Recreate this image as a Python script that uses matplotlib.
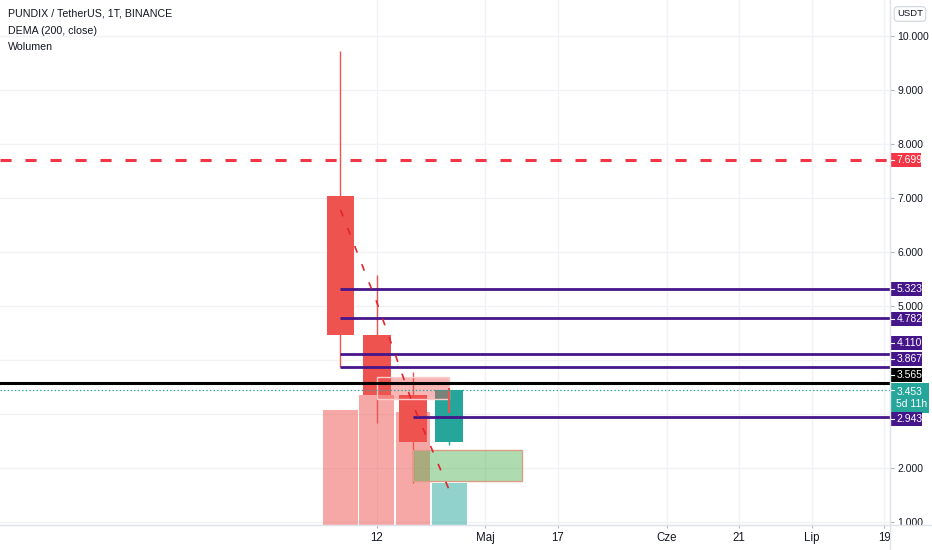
import matplotlib
matplotlib.use("Agg")
import matplotlib.pyplot as plt
from matplotlib import font_manager
from matplotlib.patches import Rectangle
from matplotlib.lines import Line2D
from matplotlib.transforms import blended_transform_factory

names = {f.name for f in font_manager.fontManager.ttflist}
FONT = 'Liberation Sans Narrow' if 'Liberation Sans Narrow' in names else 'Liberation Sans'
plt.rcParams['font.family'] = [FONT, 'DejaVu Sans']
plt.rcParams['lines.scale_dashes'] = False

# ---------------- data ----------------
weeks = [0, 1, 2, 3]                 # weekly candles from 2021-04-05
opens = [7.03, 4.46, 3.36, 2.48]
highs = [9.72, 5.57, 3.78, 3.47]
lows = [3.867, 2.83, 1.72, 2.43]
closes = [4.46, 3.36, 2.48, 3.453]
volumes = [46.0, 52.0, 45.2, 16.8]   # millions
dema = [6.78, 5.07, 3.17, 1.59]

x_tick_pos = [1, 4, 6, 9, 11, 13, 15]
x_tick_labels = ['12', 'Maj', '17', 'Cze', '21', 'Lip', '19']
price_ticks = [1, 2, 5, 6, 7, 8, 9, 10]
grid_prices = [1, 2, 3, 4, 5, 6, 7, 8, 9, 10]

resistance = 7.699
purple_levels = [5.323, 4.782, 4.110, 3.867, 2.943]
purple_starts = [0, 0, 0, 0, 2]
black_level = 3.565
last_price = 3.453
countdown = '5d 11h'
pink_box = (1, 3, 3.278, 3.685)      # x0, x1, y0, y1
green_box = (2, 5, 1.759, 2.333)
red_mark = (3, 3.02, 3.48)

# ---------------- style ----------------
RED = '#ef5350'
TEAL = '#26a69a'
PURPLE = '#45158a'
TXT = '#131722'
GRID = '#f0f2f6'
AXC = '#e0e3eb'

W, H = 932, 550
AX_W, AX_H = 890, 525
XMIN, XMAX = -9.393, 15.159
YMIN, YMAX = 0.9444, 10.6667
PXU = AX_H / (YMAX - YMIN)

fig = plt.figure(figsize=(W / 100, H / 100), dpi=100)
rect = [0, (H - AX_H) / H, AX_W / W, AX_H / H]
axv = fig.add_axes(rect)
ax = axv.twinx()
ax.set_zorder(axv.get_zorder() + 1)
ax.patch.set_visible(False)

axv.set_xlim(XMIN, XMAX)
ax.set_ylim(YMIN, YMAX)
axv.set_ylim(0, max(volumes) * AX_H / 130)

# grid on the volume axes (behind)
gtrans = blended_transform_factory(axv.transAxes, ax.transData)
for p in grid_prices:
    axv.plot([0, 1], [p, p], transform=gtrans, color=GRID, lw=1, zorder=0)
for xt in x_tick_pos:
    axv.axvline(xt, color=GRID, lw=1, zorder=0)

# volume
for w, o, c, v in zip(weeks, opens, closes, volumes):
    col = RED if c < o else TEAL
    axv.bar(w, v, width=0.955, color=col, alpha=0.5, linewidth=0, zorder=1)

# candles
for w, o, h, l, c in zip(weeks, opens, highs, lows, closes):
    col = RED if c < o else TEAL
    ax.vlines(w, l, h, color=col, lw=1, zorder=2)
    ax.bar(w, abs(c - o), bottom=min(o, c), width=0.76, color=col,
           linewidth=0, zorder=3)

# drawings
x0, x1, y0, y1 = pink_box
ax.add_patch(Rectangle((x0, y0), x1 - x0, y1 - y0, fc=(0.937, 0.325, 0.314, 0.42),
                       ec=(0.98, 0.8, 0.8, 1), lw=1, zorder=4))
x0, x1, y0, y1 = green_box
ax.add_patch(Rectangle((x0, y0), x1 - x0, y1 - y0, fc=(0.30, 0.69, 0.31, 0.45),
                       ec=(0.85, 0.62, 0.52, 1), lw=1, zorder=4))
ax.vlines(red_mark[0], red_mark[1], red_mark[2], color=RED, lw=1.5, zorder=5)

# levels
ax.plot([XMIN, XMAX], [resistance, resistance], color='#f23645', lw=2.2,
        dashes=(8, 10), zorder=6)
for lvl, st in zip(purple_levels, purple_starts):
    ax.plot([st, XMAX], [lvl, lvl], color=PURPLE, lw=2, zorder=6,
            solid_capstyle='butt')
ax.plot([XMIN, XMAX], [black_level, black_level], color='black', lw=2.2, zorder=6)
ax.plot([XMIN, XMAX], [last_price, last_price], color=TEAL, lw=0.9,
        dashes=(1, 1.6), zorder=6)

# DEMA
ax.plot(weeks, dema, color='#e0262c', lw=1.2, dashes=(5, 9), zorder=7)
axv.set_xlim(XMIN, XMAX)

# axes styling
for s in ('top', 'left'):
    ax.spines[s].set_visible(False)
    axv.spines[s].set_visible(False)
axv.spines['right'].set_visible(False)
axv.spines['bottom'].set_visible(False)
ax.spines['right'].set_color(AXC)
ax.spines['bottom'].set_color(AXC)
axv.set_yticks([])

ax.yaxis.tick_right()
ax.set_yticks(price_ticks)
ax.set_yticklabels([f'{p:.3f}' for p in price_ticks])
ax.tick_params(axis='y', length=3, width=0.8, color='#b2b5be', pad=2.5,
               labelsize=7.5, labelcolor=TXT)
axv.set_xticks(x_tick_pos)
axv.set_xticklabels(x_tick_labels)
axv.tick_params(axis='x', length=2, width=0.8, color='#b2b5be', pad=3,
                labelsize=8.3, labelcolor=TXT)

# price labels on the scale
ltrans = blended_transform_factory(ax.transAxes, ax.transData)


def price_label(y, text, fc, w_px=32, h_px=14):
    h = h_px / PXU
    ax.add_patch(Rectangle((1.0, y - h / 2), w_px / AX_W, h, transform=ltrans,
                           fc=fc, ec='none', clip_on=False, zorder=20))
    ax.plot([1.0, 1.0 + 3.5 / AX_W], [y + (h_px / 2 - 7) / PXU] * 2, transform=ltrans,
            color='white', lw=0.8, clip_on=False, zorder=21)
    ax.text(1.0 + 6.5 / AX_W, y, text, transform=ltrans, ha='left', va='center',
            fontsize=7.5, color='white', clip_on=False, zorder=22,
            linespacing=1.25)


price_label(resistance, f'{resistance:.3f}', '#f23645', 31)
price_label(purple_levels[0], f'{purple_levels[0]:.3f}', PURPLE)
price_label(purple_levels[1] - 0.02, f'{purple_levels[1]:.3f}', PURPLE)
price_label(4.315, f'{purple_levels[2]:.3f}', PURPLE)
price_label(4.019, f'{purple_levels[3]:.3f}', PURPLE)
price_label(3.722, f'{black_level:.3f}', 'black')
price_label(3.296, f'{last_price:.3f}\n{countdown}', TEAL, 39, 30)
price_label(purple_levels[4] - 0.035, f'{purple_levels[4]:.3f}', PURPLE)

# header text
fig.text(8 / W, 1 - 14 / H, 'PUNDIX / TetherUS, 1T, BINANCE', fontsize=7.7,
         color=TXT, va='center', ha='left')
fig.text(8 / W, 1 - 31 / H, 'DEMA (200, close)', fontsize=7.7, color=TXT,
         va='center', ha='left')
fig.text(8 / W, 1 - 47 / H, 'Wolumen', fontsize=7.7, color=TXT,
         va='center', ha='left')
fig.text(910 / W, 1 - 14 / H, 'USDT', fontsize=6.8, color=TXT, va='center',
         ha='center', bbox=dict(boxstyle='round,pad=0.3,rounding_size=0.4',
                                fc='white', ec='#d1d4dc', lw=0.8))

# scale separators
fig.add_artist(Line2D([AX_W / W, AX_W / W], [0, 1], color=AXC, lw=1))
fig.add_artist(Line2D([0, 1], [(H - AX_H) / H] * 2, color=AXC, lw=1))

fig.savefig('out.png', dpi=100)
